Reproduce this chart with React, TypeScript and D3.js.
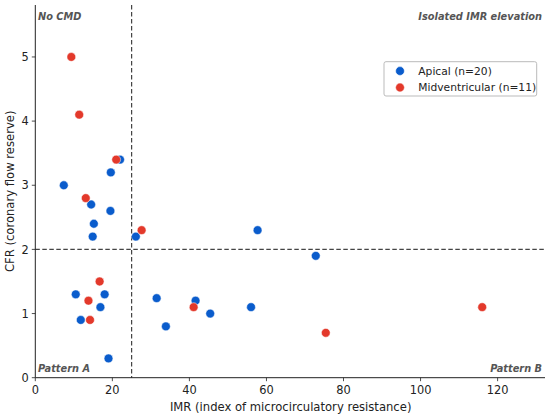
import React from "react";
import * as d3 from "d3";

const apicalIMR = [22.0, 19.6, 7.4, 14.5, 19.5, 15.2, 14.9, 26.1, 10.5, 18.0, 16.9, 11.8, 19.0, 31.5, 57.7, 41.6, 45.4, 56.0, 33.9, 72.8];
const apicalCFR = [3.4, 3.2, 3.0, 2.7, 2.6, 2.4, 2.2, 2.2, 1.3, 1.3, 1.1, 0.9, 0.3, 1.24, 2.3, 1.2, 1.0, 1.1, 0.8, 1.9];
const midIMR = [21.0, 13.1, 27.6, 16.7, 13.8, 14.2, 41.1, 75.4, 116.0, 9.35, 11.4];
const midCFR = [3.4, 2.8, 2.3, 1.5, 1.2, 0.9, 1.1, 0.7, 1.1, 5.0, 4.1];
const xTicks = [0, 20, 40, 60, 80, 100, 120];
const yTicks = [0, 1, 2, 3, 4, 5];
const seriesNames = ["Apical (n=20)", "Midventricular (n=11)"];
const quadrantLabels = ["No CMD", "Isolated IMR elevation", "Pattern A", "Pattern B"];
const imrCut = 25;
const cfrCut = 2;

const W = 550;
const H = 418;
const FONT = "DejaVu Sans, sans-serif";
const BLUE = "#0a5ccc";
const RED = "#e3392b";

export default function App() {
  const left = 35.3;
  const right = 545;
  const top = 5;
  const bottom = 377.7;
  const x = d3.scaleLinear().domain([0, 132.3]).range([left, right]);
  const y = d3.scaleLinear().domain([0, 5.81]).range([bottom, top]);

  const apical = apicalIMR.map((v, i) => [v, apicalCFR[i]]);
  const mid = midIMR.map((v, i) => [v, midCFR[i]]);
  const r = 4.4;

  return (
    <svg width={W} height={H} style={{ position: "absolute", left: 0, top: 0, background: "#fff" }} fontFamily={FONT}>
      {/* reference lines */}
      <line x1={x(imrCut)} x2={x(imrCut)} y1={top} y2={bottom} stroke="#444" strokeWidth={1.2} strokeDasharray="4.5,2.5" />
      <line x1={left} x2={right} y1={y(cfrCut)} y2={y(cfrCut)} stroke="#444" strokeWidth={1.2} strokeDasharray="4.5,2.5" />

      {/* points */}
      {apical.map((d, i) => (
        <circle key={"a" + i} cx={x(d[0])} cy={y(d[1])} r={r} fill={BLUE} stroke="#fff" strokeWidth={0.5} />
      ))}
      {mid.map((d, i) => (
        <circle key={"m" + i} cx={x(d[0])} cy={y(d[1])} r={r} fill={RED} stroke="#fff" strokeWidth={0.5} />
      ))}

      {/* spines */}
      <line x1={left} x2={left} y1={top} y2={bottom} stroke="#222" strokeWidth={1} />
      <line x1={left} x2={right} y1={bottom} y2={bottom} stroke="#222" strokeWidth={1} />

      {/* x ticks */}
      {xTicks.map((t) => (
        <g key={"xt" + t} transform={`translate(${x(t)},${bottom})`}>
          <line y1={0} y2={3.5} stroke="#222" strokeWidth={0.8} />
          <text y={16.3} textAnchor="middle" fontSize={11.4} fill="#222">{t}</text>
        </g>
      ))}
      {/* y ticks */}
      {yTicks.map((t) => (
        <g key={"yt" + t} transform={`translate(${left},${y(t)})`}>
          <line x1={0} x2={-3.5} stroke="#222" strokeWidth={0.8} />
          <text x={-6.5} dy="0.36em" textAnchor="end" fontSize={11.4} fill="#222">{t}</text>
        </g>
      ))}

      {/* axis labels */}
      <text x={(left + right) / 2 + 0.5} y={411} textAnchor="middle" fontSize={11.6} fill="#222">
        IMR (index of microcirculatory resistance)
      </text>
      <text transform={`translate(14,${(top + bottom) / 2}) rotate(-90)`} textAnchor="middle" fontSize={11.6} fill="#222">
        CFR (coronary flow reserve)
      </text>

      {/* quadrant labels */}
      <g fontSize={9.8} fontWeight="bold" fontStyle="italic" fill="#555">
        <text x={38} y={19.5}>{quadrantLabels[0]}</text>
        <text x={542} y={19.5} textAnchor="end">{quadrantLabels[1]}</text>
        <text x={38} y={371.5}>{quadrantLabels[2]}</text>
        <text x={542} y={371.5} textAnchor="end">{quadrantLabels[3]}</text>
      </g>

      {/* legend */}
      <g>
        <rect x={384} y={61.7} width={152.7} height={34.3} rx={2} fill="#fff" stroke="#bbb" strokeWidth={1} />
        <circle cx={400} cy={71} r={r} fill={BLUE} stroke="#fff" strokeWidth={0.5} />
        <circle cx={400} cy={87.5} r={r} fill={RED} stroke="#fff" strokeWidth={0.5} />
        <text x={418.3} y={71} dy="0.36em" fontSize={10.7} fill="#222">{seriesNames[0]}</text>
        <text x={418.3} y={87.5} dy="0.36em" fontSize={10.7} fill="#222">{seriesNames[1]}</text>
      </g>
    </svg>
  );
}
